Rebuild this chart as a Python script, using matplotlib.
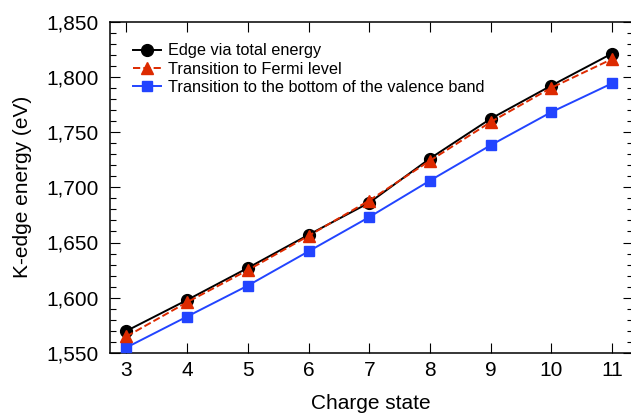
import matplotlib
matplotlib.use("Agg")
import matplotlib.pyplot as plt
from matplotlib.ticker import MultipleLocator, FuncFormatter

charge = [3, 4, 5, 6, 7, 8, 9, 10, 11]
edge_total = [1570, 1598, 1627, 1657, 1686, 1726, 1762, 1792, 1821]
fermi = [1565, 1596, 1625, 1656, 1688, 1724, 1759, 1790, 1816]
valence = [1555, 1583, 1611, 1642, 1673, 1706, 1738, 1768, 1794]

plt.rcParams['font.family'] = ['Liberation Sans', 'DejaVu Sans']

W, H = 631, 413
fig = plt.figure(figsize=(W / 100, H / 100), dpi=100)
left, right, top, bottom = 109.5, 633, 21.5, 353
ax = fig.add_axes([left / W, 1 - bottom / H, (right - left) / W, (bottom - top) / H])

ax.plot(charge, edge_total, '-o', color='black', lw=1.4, ms=8.5, label='Edge via total energy', zorder=3)
ax.plot(charge, fermi, '--^', color='#dd2a00', lw=1.4, ms=8.5, label='Transition to Fermi level', zorder=4)
ax.plot(charge, valence, '-s', color='#2244ff', lw=1.4, ms=7, label='Transition to the bottom of the valence band', zorder=3)

ax.set_xlim(2.72, 11.346)
ax.set_ylim(1550, 1850)
ax.set_xticks(charge)
ax.yaxis.set_major_locator(MultipleLocator(50))
ax.yaxis.set_minor_locator(MultipleLocator(10))
ax.yaxis.set_major_formatter(FuncFormatter(lambda v, p: f"{int(v):,}"))
ax.tick_params(which='both', direction='in', top=True, right=True, labelsize=15, width=0.8)
ax.tick_params(which='major', length=7)
ax.tick_params(which='minor', length=4.5)
ax.tick_params(axis='x', pad=5.5)
ax.tick_params(axis='y', pad=8)
for s in ax.spines.values():
    s.set_linewidth(1.1)

ax.set_xlabel('Charge state', fontsize=15, labelpad=10)
ax.set_ylabel('K-edge energy (eV)', fontsize=15, labelpad=10)

ax.legend(loc='upper left', bbox_to_anchor=(0.044, 1 - 0.0663), frameon=False,
          fontsize=11.7, handlelength=1.75, labelspacing=0.2, borderaxespad=0,
          borderpad=0, handletextpad=0.45)

fig.savefig('out.png', dpi=100)
